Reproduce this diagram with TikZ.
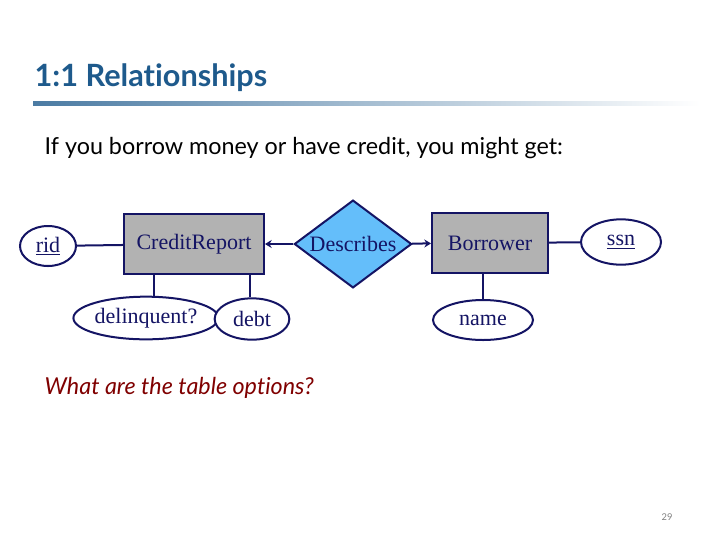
\documentclass[tikz,border=0pt]{standalone}
\usepackage{fontspec}
\setmainfont{Liberation Serif}
\newfontfamily\headfont[Ligatures={NoCommon,NoDiscretionary}]{Lato}
\usetikzlibrary{shapes.geometric,arrows.meta}
\definecolor{navy}{RGB}{20,20,100}
\definecolor{titleblue}{RGB}{30,90,140}
\definecolor{diafill}{RGB}{100,190,250}
\definecolor{askred}{RGB}{128,0,0}
\begin{document}
\begin{tikzpicture}[x=0.75pt,y=-0.75pt]
	\tikzstyle{entity}=[draw=navy,line width=1.5pt,fill=gray!60,font=\fontsize{16.5}{18}\selectfont,text=navy,inner sep=0pt]
	\tikzstyle{attr}=[draw=navy,line width=1.5pt,ellipse,fill=white,font=\fontsize{16.5}{18}\selectfont,text=navy,inner sep=0pt]
	\tikzstyle{rel}=[draw=navy,line width=1.5pt,diamond,aspect=1.2,fill=diafill,font=\fontsize{16.5}{18}\selectfont,text=navy,inner sep=0pt]
	\tikzstyle{link}=[draw=navy,line width=1.5pt]
	\tikzstyle{myarrow}=[link,-{Stealth[length=5pt,width=6pt]}]

	\useasboundingbox (0,0) rectangle (720,540);
	\fill[white] (0,0) rectangle (720,540);

	% title and rule
	\node[anchor=west,text=titleblue,font=\headfont\bfseries\fontsize{23}{26}\selectfont] (title) at (30,78) {1:1 Relationships};
	\shade[left color=titleblue!80,right color=white] (33,101) rectangle (700,105);
	\node[anchor=west,font=\headfont\fontsize{17.5}{20}\selectfont] (intro) at (40,148) {If you borrow money or have credit, you might get:};

	\node[entity,minimum width=105pt,minimum height=45pt] (credit) at (194,244) {CreditReport};
	\node[entity,minimum width=87pt,minimum height=45pt] (borrower) at (490,243) {Borrower};
	\node[rel,minimum width=88pt,minimum height=56pt] (describes) at (353,244) {Describes};

	\node[attr,minimum width=42pt,minimum height=30pt] (rid) at (48,246) {\underline{rid}};
	\node[attr,minimum width=60pt,minimum height=34pt] (ssn) at (621,242) {\underline{ssn}};
	\node[attr,minimum width=88pt,minimum height=32pt] (delinq) at (146,318) {delinquent?};
	\node[attr,minimum width=56pt,minimum height=31pt] (debt) at (252,319) {debt};
	\node[attr,minimum width=75pt,minimum height=30pt] (name) at (483,320) {name};

	\draw[link] (rid) -- (credit);
	\draw[link] (borrower) -- (ssn);
	\draw[link] ([xshift=-30pt] credit.south) -- ([xshift=-30pt] credit.south |- delinq.north);
	\draw[link] ([xshift=42pt] credit.south) -- ([xshift=42pt] credit.south |- debt.north);
	\draw[link] ([xshift=-5pt] borrower.south) -- ([xshift=-5pt] borrower.south |- name.north);
	\draw[myarrow] (describes) -- (credit);
	\draw[myarrow] (describes) -- (borrower);

	\node[anchor=west,text=askred,font=\headfont\itshape\fontsize{17.5}{20}\selectfont] (ask) at (40,388) {What are the table options?};
	\node[text=gray,font=\headfont\fontsize{7}{8}\selectfont] (page) at (667,517) {29};
\end{tikzpicture}
\end{document}
